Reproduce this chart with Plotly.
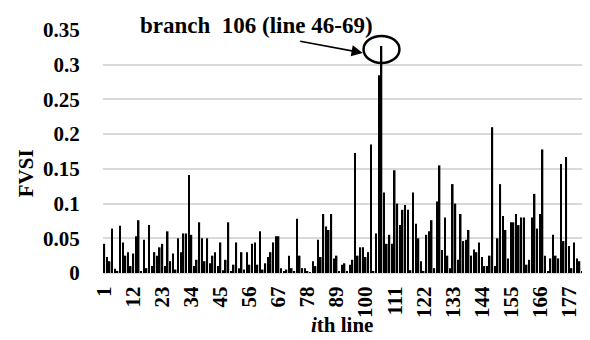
import plotly.graph_objects as go

# FVSI value of each line (branch)
fvsi = [
    0.042, 0.023, 0.017, 0.064, 0.006, 0.003, 0.068, 0.044, 0.025, 0.030,
    0.010, 0.028, 0.053, 0.076, 0.002, 0.048, 0.007, 0.069, 0.010, 0.030,
    0.025, 0.037, 0.042, 0.010, 0.060, 0.017, 0.028, 0.005, 0.050, 0.030,
    0.057, 0.057, 0.141, 0.055, 0.010, 0.019, 0.073, 0.050, 0.017, 0.050,
    0.014, 0.025, 0.030, 0.010, 0.044,
    0.004, 0.019, 0.073, 0.003, 0.012, 0.044, 0.007, 0.030, 0.005, 0.030,
    0.012, 0.042, 0.044, 0.012, 0.060, 0.005, 0.014, 0.023, 0.030, 0.044,
    0.053, 0.053, 0.007, 0.002, 0.005, 0.025, 0.007, 0.003, 0.078, 0.025,
    0.007, 0.007, 0.002, 0.001, 0.017, 0.010, 0.048, 0.023, 0.085, 0.067,
    0.062, 0.085, 0.021, 0.025, 0.002, 0.012, 0.014, 0.003,
    0.012, 0.019, 0.173, 0.025, 0.037, 0.037, 0.023, 0.030, 0.185, 0.003,
    0.057, 0.285, 0.327, 0.116, 0.042, 0.055, 0.042, 0.148, 0.100, 0.069,
    0.091, 0.098, 0.091, 0.004, 0.116, 0.071, 0.050, 0.017, 0.003, 0.055,
    0.060, 0.076, 0.007, 0.103, 0.155, 0.033, 0.080, 0.025, 0.007, 0.128,
    0.100, 0.019, 0.085, 0.046, 0.048, 0.062, 0.025, 0.034,
    0.030, 0.044, 0.023, 0.010, 0.010, 0.025, 0.210, 0.010, 0.050, 0.128,
    0.082, 0.062, 0.021, 0.073, 0.073, 0.085, 0.069, 0.080, 0.080, 0.012,
    0.019, 0.080, 0.114, 0.064, 0.085, 0.178, 0.025, 0.002, 0.021, 0.055,
    0.025, 0.021, 0.157, 0.046, 0.167, 0.039, 0.007, 0.044, 0.021, 0.017,
    0.002, 0.014, 0.064, 0.060, 0.019,
]
line_index = list(range(1, len(fvsi) + 1))

tick_vals = [1, 12, 23, 34, 45, 56, 67, 78, 89, 100, 111, 122, 133, 144, 155, 166, 177]
tick_text = [str(v) for v in tick_vals]
y_ticks = [0, 0.05, 0.1, 0.15, 0.2, 0.25, 0.3, 0.35]

highlight_branch = 106
annot_text = "branch  106 (line 46-69)"

FONT = "Liberation Serif, Times New Roman, serif"

fig = go.Figure(
    go.Bar(
        x=line_index,
        y=fvsi,
        marker=dict(color="black", line=dict(width=0)),
        width=0.6,
    )
)

hv = fvsi[highlight_branch - 1]
fig.add_shape(
    type="circle",
    xref="x", yref="y",
    x0=highlight_branch - 6.8, x1=highlight_branch + 6.8,
    y0=hv - 0.005 - 0.0195, y1=hv - 0.005 + 0.0195,
    line=dict(color="black", width=2.5),
)

fig.add_annotation(
    x=highlight_branch - 7.1, y=hv - 0.01,
    xref="x", yref="y",
    ax=-64, ay=-12,
    text="",
    showarrow=True,
    arrowhead=2, arrowsize=1.4, arrowwidth=1.6, arrowcolor="black",
)
fig.add_annotation(
    x=0.312, y=1.018, xref="paper", yref="paper",
    text="<b>" + annot_text + "</b>",
    showarrow=False,
    font=dict(family=FONT, size=23, color="black"),
    xanchor="center", yanchor="middle",
)
fig.add_annotation(
    x=-0.157, y=0.41, xref="paper", yref="paper",
    text="<b>FVSI</b>", textangle=-90,
    showarrow=False,
    font=dict(family=FONT, size=21, color="black"),
    xanchor="center", yanchor="middle",
)
fig.add_annotation(
    x=0.487, y=-0.215, xref="paper", yref="paper",
    text="<b><i>i</i>th line</b>",
    showarrow=False,
    font=dict(family=FONT, size=21, color="black"),
    xanchor="center", yanchor="middle", borderpad=0,
)

fig.update_layout(
    width=590, height=340, autosize=False,
    margin=dict(l=95, r=4, t=22, b=75),
    paper_bgcolor="white", plot_bgcolor="white",
    showlegend=False,
    bargap=0.4,
)
fig.update_xaxes(
    range=[0.5, len(fvsi) + 0.5],
    tickmode="array", tickvals=tick_vals, ticktext=tick_text,
    tickangle=-90,
    tickfont=dict(family=FONT, size=21, color="black", weight="bold"),
    showgrid=False, zeroline=False,
    showline=True, linecolor="#d9d9d9", linewidth=1,
    ticks="outside", ticklen=4, tickcolor="rgba(0,0,0,0)",
)
fig.update_yaxes(
    range=[0, 0.35],
    tickmode="array", tickvals=y_ticks,
    tickfont=dict(family=FONT, size=21, color="black", weight="bold"),
    showgrid=True, gridcolor="#d9d9d9", gridwidth=1.5,
    zeroline=False, showline=False,
    ticks="outside", ticklen=18, tickcolor="rgba(0,0,0,0)",
)

fig.write_html("out.html")
